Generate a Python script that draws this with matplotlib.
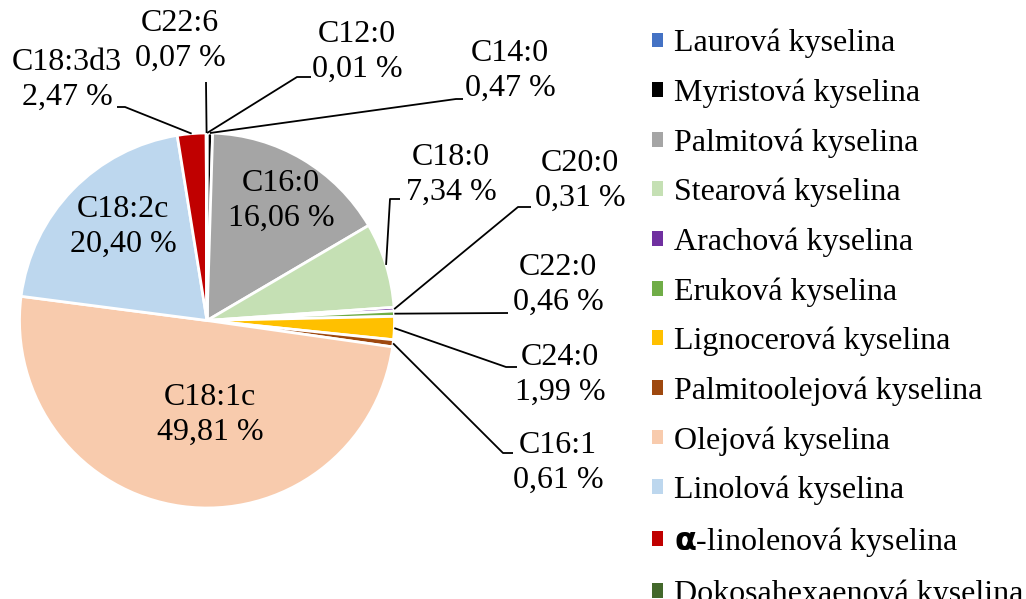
import matplotlib
matplotlib.use("Agg")
import matplotlib.pyplot as plt
from matplotlib.patches import Patch
import numpy as np

plt.rcParams['font.family'] = ['Liberation Serif', 'DejaVu Serif']
plt.rcParams['mathtext.fontset'] = 'dejavusans'

# ---- data ----
codes = ["C12:0", "C14:0", "C16:0", "C18:0", "C20:0", "C22:0", "C24:0",
         "C16:1", "C18:1c", "C18:2c", "C18:3d3", "C22:6"]
values = [0.01, 0.47, 16.06, 7.34, 0.31, 0.46, 1.99, 0.61, 49.81, 20.40, 2.47, 0.07]
value_labels = ["0,01 %", "0,47 %", "16,06 %", "7,34 %", "0,31 %", "0,46 %", "1,99 %",
                "0,61 %", "49,81 %", "20,40 %", "2,47 %", "0,07 %"]
names = ["Laurová kyselina", "Myristová kyselina", "Palmitová kyselina",
         "Stearová kyselina", "Arachová kyselina", "Eruková kyselina",
         "Lignocerová kyselina", "Palmitoolejová kyselina", "Olejová kyselina",
         "Linolová kyselina", r"$\mathbf{\alpha}$-linolenová kyselina",
         "Dokosahexaenová kyselina"]
colors = ["#4472C4", "#000000", "#A5A5A5", "#C5E0B4", "#7030A0", "#70AD47",
          "#FFC000", "#9E480E", "#F8CBAD", "#BDD7EE", "#C00000", "#43682B"]

W, H = 1026, 599
fig = plt.figure(figsize=(W / 100, H / 100), dpi=100)
ax = fig.add_axes([0, 0, 1, 1])

def Y(y):  # pixel y (from top) -> data y
    return H - y

cx, cy, R = 207, 320.5, 187.5
wedges, _ = ax.pie(values, colors=colors, startangle=90, counterclock=False,
                   center=(cx, Y(cy)), radius=R,
                   wedgeprops=dict(edgecolor="white", linewidth=2.0))
ax.set_xlim(0, W)
ax.set_ylim(0, H)
ax.set_aspect("auto")
ax.axis("off")

FS = 23

# label layout: text centre (px), and leader path (elbow, end) in px, None = inside label
layout = {
    "C12:0":   dict(text=(357, 52), path=[(297, 77), (311, 77)]),
    "C14:0":   dict(text=(510, 71), path=[(456, 99), (463, 99)]),
    "C16:0":   dict(text=(281, 201), path=None),
    "C18:0":   dict(text=(451, 175), path=[(390, 199), (400, 199)]),
    "C20:0":   dict(text=(580, 181), path=[(518, 207), (531, 207)]),
    "C22:0":   dict(text=(558, 285), path=[(508, 313)]),
    "C24:0":   dict(text=(560, 375), path=[(506, 367), (517, 367)]),
    "C16:1":   dict(text=(558, 463), path=[(503, 453), (513, 453)]),
    "C18:1c":  dict(text=(210, 415), path=None),
    "C18:2c":  dict(text=(123, 227), path=None),
    "C18:3d3": dict(text=(67, 80), path=[(125, 107), (117, 107)]),
    "C22:6":   dict(text=(180, 41), path=[(206, 82)]),
}

for w, code, vl in zip(wedges, codes, value_labels):
    L = layout[code]
    tx, ty = L["text"]
    ax.text(tx, Y(ty), f"{code}\n{vl}", ha="center", va="center",
            fontsize=FS, linespacing=1.28, color="black")
    if L["path"] is not None:
        ang = np.deg2rad((w.theta1 + w.theta2) / 2)
        sx = w.center[0] + w.r * np.cos(ang)
        sy = w.center[1] + w.r * np.sin(ang)
        xs = [sx] + [p[0] for p in L["path"]]
        ys = [sy] + [Y(p[1]) for p in L["path"]]
        ax.plot(xs, ys, color="black", lw=1.3, solid_capstyle="butt")

handles = [Patch(facecolor=c, edgecolor="none") for c in colors]
fig.legend(handles=handles, labels=names, loc="upper left",
           bbox_to_anchor=(652 / W, 1 - 29 / H), frameon=False, fontsize=FS,
           handlelength=0.34, handleheight=0.34, handletextpad=0.35,
           labelspacing=0.63, borderpad=0, borderaxespad=0)

fig.savefig("out.png", dpi=100)
